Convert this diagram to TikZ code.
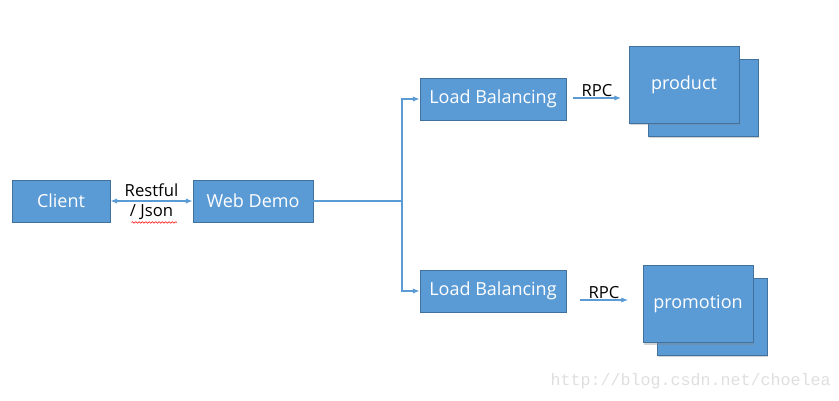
\documentclass[tikz,border=0pt]{standalone}
\usepackage{fontspec}
\setmainfont{Open Sans}
\setmonofont{Liberation Mono}
\usetikzlibrary{arrows.meta,shadows,decorations.pathmorphing}

\definecolor{boxblue}{HTML}{5B9BD5}
\definecolor{boxline}{HTML}{41719C}

\tikzset{
  box/.style={draw=boxline, fill=boxblue, text=white, line width=0.7pt,
    font=\fontsize{13.5}{15}\selectfont, inner sep=0pt,
    minimum height=31.5pt},
  svcbox/.style={box, minimum width=82.5pt, minimum height=57.75pt,
    drop shadow={shadow xshift=1pt, shadow yshift=-1.5pt, opacity=0.35}},
  link/.style={draw=boxblue, line width=0.8pt,
    -{Latex[length=5pt, width=4pt]}},
  lbl/.style={font=\fontsize{12.5}{14}\selectfont, text=black}
}

\begin{document}
\begin{tikzpicture}[x=0.75pt, y=-0.75pt]
\useasboundingbox (0,0) rectangle (839,400);

% Client and web front end
\node[box, minimum width=73.5pt] (client) at (61,201) {Client};
\node[box, minimum width=90pt] (web) at (253,201) {Web Demo};

% Load balancers
\node[box, minimum width=109.5pt] (lb1) at (493,99) {Load Balancing};
\node[box, minimum width=109.5pt] (lb2) at (493,291) {Load Balancing};

% Services (back copy first, then front copy)
\node[svcbox] (prodB) at (703,97.5) {};
\node[svcbox] (prod) at (684,84.5) {product};
\node[svcbox] (promoB) at (712,316.5) {};
\node[svcbox] (promo) at (698,304) {promotion};

% Client <-> Web Demo
\draw[link, {Latex[length=5pt, width=4pt]}-{Latex[length=5pt, width=4pt]}] (client) -- (web)
  node[midway, above, lbl, inner sep=2.5pt] {Restful}
  node[midway, below, lbl, inner sep=2.5pt] (json) {/ Json};
\draw[red, line width=0.4pt, decorate,
  decoration={snake, amplitude=0.6pt, segment length=2.5pt}]
  ([xshift=4pt, yshift=1pt]json.south west) -- ([yshift=1pt]json.south east);

% Web Demo -> split -> load balancers
\coordinate (split) at (402,201);
\draw[draw=boxblue, line width=0.8pt] (web.east) -- (split);
\draw[link] (split) |- (lb1.west);
\draw[link] (split) |- (lb2.west);

% RPC calls
\coordinate (rpc1a) at (573,98);
\coordinate (rpc1b) at (621,98);
\coordinate (rpc2a) at (580,300);
\coordinate (rpc2b) at (628,300);
\draw[link] (rpc1a) -- (rpc1b) node[midway, above, lbl, inner sep=0.5pt] {RPC};
\draw[link] (rpc2a) -- (rpc2b) node[midway, above, lbl, inner sep=0.5pt] {RPC};

% watermark
\node[font=\ttfamily\fontsize{12.5}{14}\selectfont, text=gray!25, anchor=west] (mark) at (546,381) {http://blog.csdn.net/choelea};

\end{tikzpicture}
\end{document}
